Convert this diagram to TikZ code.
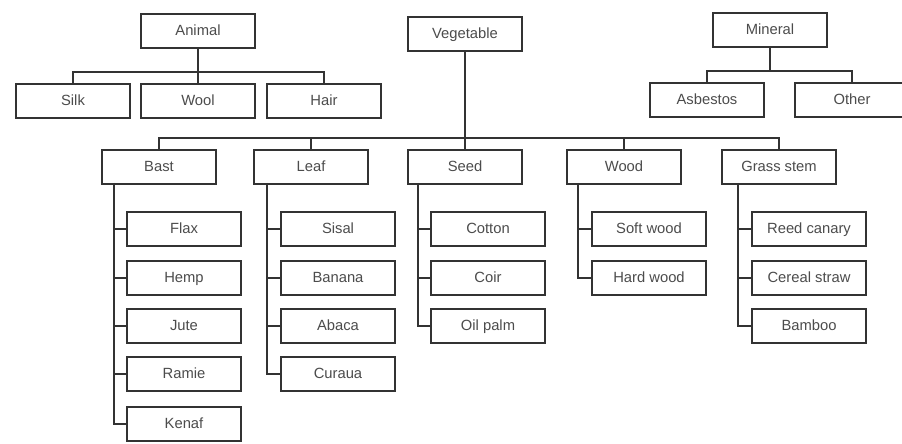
\documentclass[tikz,border=0pt]{standalone}
\usepackage{fontspec}
\setmainfont{Liberation Sans}
\tikzset{
  fbox/.style={draw=black!80,line width=.8pt,fill=white,minimum width=2.85cm,minimum height=.85cm,inner sep=0pt,text height=1.6ex,text depth=.4ex,text=black!70,font=\fontsize{10.5}{12}\selectfont},
  link/.style={draw=black!80,line width=.9pt}
}
\begin{document}
\begin{tikzpicture}[x=.025cm,y=-.025cm]
\useasboundingbox (0,0) rectangle (902,444);
% top row
\node[fbox] (animal) at (198,31) {Animal};
\node[fbox] (veg) at (465,34) {Vegetable};
\node[fbox] (mineral) at (770,30) {Mineral};
% animal and mineral fibres
\node[fbox] (silk) at (73,101) {Silk};
\node[fbox] (wool) at (198,101) {Wool};
\node[fbox] (hair) at (324,101) {Hair};
\node[fbox] (asb) at (707,100) {Asbestos};
\node[fbox] (other) at (852,100) {Other};
% plant groups
\node[fbox] (bast) at (159,167) {Bast};
\node[fbox] (leaf) at (311,167) {Leaf};
\node[fbox] (seed) at (465,167) {Seed};
\node[fbox] (wood) at (624,167) {Wood};
\node[fbox] (grass) at (779,167) {Grass stem};
% bast
\node[fbox] (flax) at (184,229) {Flax};
\node[fbox] (hemp) at (184,278) {Hemp};
\node[fbox] (jute) at (184,326) {Jute};
\node[fbox] (ramie) at (184,374) {Ramie};
\node[fbox] (kenaf) at (184,424) {Kenaf};
% leaf
\node[fbox] (sisal) at (338,229) {Sisal};
\node[fbox] (banana) at (338,278) {Banana};
\node[fbox] (abaca) at (338,326) {Abaca};
\node[fbox] (curaua) at (338,374) {Curaua};
% seed
\node[fbox] (cotton) at (488,229) {Cotton};
\node[fbox] (coir) at (488,278) {Coir};
\node[fbox] (oilpalm) at (488,326) {Oil palm};
% wood
\node[fbox] (softw) at (649,229) {Soft wood};
\node[fbox] (hardw) at (649,278) {Hard wood};
% grass stem
\node[fbox] (reed) at (809,229) {Reed canary};
\node[fbox] (cereal) at (809,278) {Cereal straw};
\node[fbox] (bamboo) at (809,326) {Bamboo};
% buses
\coordinate (abus) at (198,72);
\coordinate (mbus) at (770,71);
\coordinate (vbus) at (465,138);
\draw[link] (animal.south) -- (wool.north);
\draw[link] (silk.north) |- (abus) -| (hair.north);
\draw[link] (mineral.south) -- (mbus);
\draw[link] (asb.north) |- (mbus) -| (other.north);
\draw[link] (veg.south) -- (seed.north);
\draw[link] (bast.north) |- (vbus) -| (grass.north);
\draw[link] (leaf.north) -- (leaf.north |- vbus);
\draw[link] (wood.north) -- (wood.north |- vbus);
% side lines
\coordinate (bastl) at (114,183);
\coordinate (leafl) at (267,183);
\coordinate (seedl) at (418,183);
\coordinate (woodl) at (578,183);
\coordinate (grassl) at (738,183);
\draw[link] (bastl) |- (kenaf.west);
\draw[link] (flax.west) -- (flax.west -| bastl);
\draw[link] (hemp.west) -- (hemp.west -| bastl);
\draw[link] (jute.west) -- (jute.west -| bastl);
\draw[link] (ramie.west) -- (ramie.west -| bastl);
\draw[link] (leafl) |- (curaua.west);
\draw[link] (sisal.west) -- (sisal.west -| leafl);
\draw[link] (banana.west) -- (banana.west -| leafl);
\draw[link] (abaca.west) -- (abaca.west -| leafl);
\draw[link] (seedl) |- (oilpalm.west);
\draw[link] (cotton.west) -- (cotton.west -| seedl);
\draw[link] (coir.west) -- (coir.west -| seedl);
\draw[link] (woodl) |- (hardw.west);
\draw[link] (softw.west) -- (softw.west -| woodl);
\draw[link] (grassl) |- (bamboo.west);
\draw[link] (reed.west) -- (reed.west -| grassl);
\draw[link] (cereal.west) -- (cereal.west -| grassl);
\end{tikzpicture}
\end{document}
